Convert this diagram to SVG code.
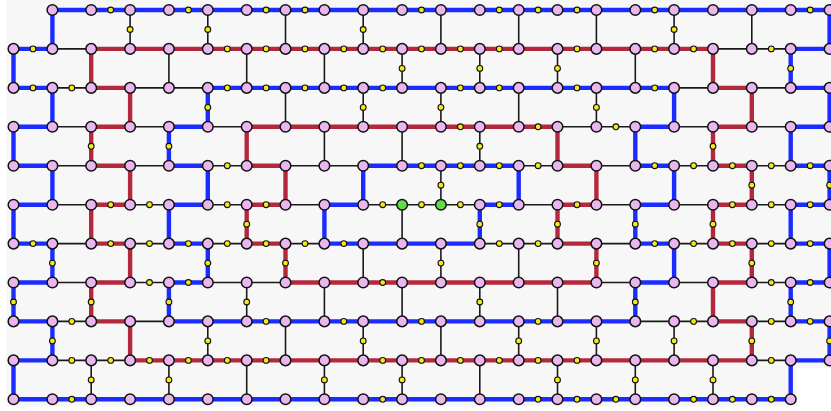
<svg xmlns="http://www.w3.org/2000/svg" width="831" height="411" viewBox="0 0 831 411">
<style>
.b{stroke:#1a2cff;stroke-width:4.4;fill:none}
.r{stroke:#b3283d;stroke-width:4.4;fill:none}
.k{stroke:#1a1a1a;stroke-width:1.6;fill:none}
.p{fill:#e9b6ef;stroke:#111;stroke-width:1.5}
.g{fill:#62dc45;stroke:#111;stroke-width:1.5}
.y{fill:#f3ea1d;stroke:#111;stroke-width:1.1}
</style>
<rect width="831" height="411" fill="#ffffff"/>
<polygon points="6,0 831,0 831,368 797,368 797,406.5 6,406.5" fill="#f7f7f7"/>
<g id="connectors">
<path class="b" d="M52.4 10H91.2"/><path class="b" d="M91.2 10H130.1"/><path class="b" d="M130.1 10H168.9"/><path class="b" d="M168.9 10H207.8"/><path class="b" d="M207.8 10H246.7"/><path class="b" d="M246.7 10H285.5"/><path class="b" d="M285.5 10H324.4"/><path class="b" d="M324.4 10H363.2"/><path class="b" d="M363.2 10H402.1"/><path class="b" d="M402.1 10H440.9"/><path class="b" d="M440.9 10H479.8"/><path class="b" d="M479.8 10H518.7"/><path class="b" d="M518.7 10H557.5"/><path class="b" d="M557.5 10H596.4"/><path class="b" d="M596.4 10H635.3"/><path class="b" d="M635.3 10H674.1"/><path class="b" d="M674.1 10H713"/><path class="b" d="M713 10H751.8"/><path class="b" d="M751.8 10H790.7"/><path class="b" d="M790.7 10H829.6"/>
<path class="b" d="M13.5 48.9H52.4"/><path class="k" d="M52.4 48.9H91.2"/><path class="r" d="M91.2 48.9H130.1"/><path class="r" d="M130.1 48.9H168.9"/><path class="r" d="M168.9 48.9H207.8"/><path class="r" d="M207.8 48.9H246.7"/><path class="r" d="M246.7 48.9H285.5"/><path class="r" d="M285.5 48.9H324.4"/><path class="r" d="M324.4 48.9H363.2"/><path class="r" d="M363.2 48.9H402.1"/><path class="r" d="M402.1 48.9H440.9"/><path class="r" d="M440.9 48.9H479.8"/><path class="r" d="M479.8 48.9H518.7"/><path class="r" d="M518.7 48.9H557.5"/><path class="r" d="M557.5 48.9H596.4"/><path class="r" d="M596.4 48.9H635.3"/><path class="r" d="M635.3 48.9H674.1"/><path class="r" d="M674.1 48.9H713"/><path class="k" d="M713 48.9H751.8"/><path class="k" d="M751.8 48.9H790.7"/><path class="b" d="M790.7 48.9H829.6"/>
<path class="b" d="M13.5 87.9H52.4"/><path class="k" d="M52.4 87.9H91.2"/><path class="r" d="M91.2 87.9H130.1"/><path class="k" d="M130.1 87.9H168.9"/><path class="k" d="M168.9 87.9H207.8"/><path class="b" d="M207.8 87.9H246.7"/><path class="b" d="M246.7 87.9H285.5"/><path class="b" d="M285.5 87.9H324.4"/><path class="b" d="M324.4 87.9H363.2"/><path class="b" d="M363.2 87.9H402.1"/><path class="b" d="M402.1 87.9H440.9"/><path class="b" d="M440.9 87.9H479.8"/><path class="b" d="M479.8 87.9H518.7"/><path class="b" d="M518.7 87.9H557.5"/><path class="b" d="M557.5 87.9H596.4"/><path class="b" d="M596.4 87.9H635.3"/><path class="b" d="M635.3 87.9H674.1"/><path class="k" d="M674.1 87.9H713"/><path class="r" d="M713 87.9H751.8"/><path class="k" d="M751.8 87.9H790.7"/><path class="b" d="M790.7 87.9H829.6"/>
<path class="b" d="M13.5 126.8H52.4"/><path class="k" d="M52.4 126.8H91.2"/><path class="r" d="M91.2 126.8H130.1"/><path class="k" d="M130.1 126.8H168.9"/><path class="b" d="M168.9 126.8H207.8"/><path class="k" d="M207.8 126.8H246.7"/><path class="r" d="M246.7 126.8H285.5"/><path class="r" d="M285.5 126.8H324.4"/><path class="r" d="M324.4 126.8H363.2"/><path class="r" d="M363.2 126.8H402.1"/><path class="r" d="M402.1 126.8H440.9"/><path class="r" d="M440.9 126.8H479.8"/><path class="r" d="M479.8 126.8H518.7"/><path class="r" d="M518.7 126.8H557.5"/><path class="k" d="M557.5 126.8H596.4"/><path class="k" d="M596.4 126.8H635.3"/><path class="b" d="M635.3 126.8H674.1"/><path class="k" d="M674.1 126.8H713"/><path class="r" d="M713 126.8H751.8"/><path class="k" d="M751.8 126.8H790.7"/><path class="b" d="M790.7 126.8H829.6"/>
<path class="b" d="M13.5 165.7H52.4"/><path class="k" d="M52.4 165.7H91.2"/><path class="r" d="M91.2 165.7H130.1"/><path class="k" d="M130.1 165.7H168.9"/><path class="b" d="M168.9 165.7H207.8"/><path class="k" d="M207.8 165.7H246.7"/><path class="r" d="M246.7 165.7H285.5"/><path class="k" d="M285.5 165.7H324.4"/><path class="k" d="M324.4 165.7H363.2"/><path class="b" d="M363.2 165.7H402.1"/><path class="b" d="M402.1 165.7H440.9"/><path class="b" d="M440.9 165.7H479.8"/><path class="b" d="M479.8 165.7H518.7"/><path class="k" d="M518.7 165.7H557.5"/><path class="r" d="M557.5 165.7H596.4"/><path class="k" d="M596.4 165.7H635.3"/><path class="b" d="M635.3 165.7H674.1"/><path class="k" d="M674.1 165.7H713"/><path class="r" d="M713 165.7H751.8"/><path class="k" d="M751.8 165.7H790.7"/><path class="b" d="M790.7 165.7H829.6"/>
<path class="b" d="M13.5 204.7H52.4"/><path class="k" d="M52.4 204.7H91.2"/><path class="r" d="M91.2 204.7H130.1"/><path class="k" d="M130.1 204.7H168.9"/><path class="b" d="M168.9 204.7H207.8"/><path class="k" d="M207.8 204.7H246.7"/><path class="r" d="M246.7 204.7H285.5"/><path class="k" d="M285.5 204.7H324.4"/><path class="b" d="M324.4 204.7H363.2"/><path class="k" d="M363.2 204.7H402.1"/><path class="k" d="M402.1 204.7H440.9"/><path class="k" d="M440.9 204.7H479.8"/><path class="b" d="M479.8 204.7H518.7"/><path class="k" d="M518.7 204.7H557.5"/><path class="r" d="M557.5 204.7H596.4"/><path class="k" d="M596.4 204.7H635.3"/><path class="b" d="M635.3 204.7H674.1"/><path class="k" d="M674.1 204.7H713"/><path class="r" d="M713 204.7H751.8"/><path class="k" d="M751.8 204.7H790.7"/><path class="b" d="M790.7 204.7H829.6"/>
<path class="b" d="M13.5 243.6H52.4"/><path class="k" d="M52.4 243.6H91.2"/><path class="r" d="M91.2 243.6H130.1"/><path class="k" d="M130.1 243.6H168.9"/><path class="b" d="M168.9 243.6H207.8"/><path class="k" d="M207.8 243.6H246.7"/><path class="r" d="M246.7 243.6H285.5"/><path class="k" d="M285.5 243.6H324.4"/><path class="b" d="M324.4 243.6H363.2"/><path class="b" d="M363.2 243.6H402.1"/><path class="b" d="M402.1 243.6H440.9"/><path class="b" d="M440.9 243.6H479.8"/><path class="k" d="M479.8 243.6H518.7"/><path class="k" d="M518.7 243.6H557.5"/><path class="r" d="M557.5 243.6H596.4"/><path class="k" d="M596.4 243.6H635.3"/><path class="b" d="M635.3 243.6H674.1"/><path class="k" d="M674.1 243.6H713"/><path class="r" d="M713 243.6H751.8"/><path class="k" d="M751.8 243.6H790.7"/><path class="b" d="M790.7 243.6H829.6"/>
<path class="b" d="M13.5 282.5H52.4"/><path class="k" d="M52.4 282.5H91.2"/><path class="r" d="M91.2 282.5H130.1"/><path class="k" d="M130.1 282.5H168.9"/><path class="b" d="M168.9 282.5H207.8"/><path class="k" d="M207.8 282.5H246.7"/><path class="k" d="M246.7 282.5H285.5"/><path class="r" d="M285.5 282.5H324.4"/><path class="r" d="M324.4 282.5H363.2"/><path class="r" d="M363.2 282.5H402.1"/><path class="r" d="M402.1 282.5H440.9"/><path class="r" d="M440.9 282.5H479.8"/><path class="r" d="M479.8 282.5H518.7"/><path class="r" d="M518.7 282.5H557.5"/><path class="r" d="M557.5 282.5H596.4"/><path class="k" d="M596.4 282.5H635.3"/><path class="b" d="M635.3 282.5H674.1"/><path class="k" d="M674.1 282.5H713"/><path class="r" d="M713 282.5H751.8"/><path class="k" d="M751.8 282.5H790.7"/><path class="b" d="M790.7 282.5H829.6"/>
<path class="b" d="M13.5 321.4H52.4"/><path class="k" d="M52.4 321.4H91.2"/><path class="r" d="M91.2 321.4H130.1"/><path class="k" d="M130.1 321.4H168.9"/><path class="b" d="M168.9 321.4H207.8"/><path class="b" d="M207.8 321.4H246.7"/><path class="b" d="M246.7 321.4H285.5"/><path class="b" d="M285.5 321.4H324.4"/><path class="b" d="M324.4 321.4H363.2"/><path class="b" d="M363.2 321.4H402.1"/><path class="b" d="M402.1 321.4H440.9"/><path class="b" d="M440.9 321.4H479.8"/><path class="b" d="M479.8 321.4H518.7"/><path class="b" d="M518.7 321.4H557.5"/><path class="b" d="M557.5 321.4H596.4"/><path class="b" d="M596.4 321.4H635.3"/><path class="k" d="M635.3 321.4H674.1"/><path class="k" d="M674.1 321.4H713"/><path class="r" d="M713 321.4H751.8"/><path class="k" d="M751.8 321.4H790.7"/><path class="b" d="M790.7 321.4H829.6"/>
<path class="b" d="M13.5 360.4H52.4"/><path class="k" d="M52.4 360.4H91.2"/><path class="k" d="M91.2 360.4H130.1"/><path class="r" d="M130.1 360.4H168.9"/><path class="r" d="M168.9 360.4H207.8"/><path class="r" d="M207.8 360.4H246.7"/><path class="r" d="M246.7 360.4H285.5"/><path class="r" d="M285.5 360.4H324.4"/><path class="r" d="M324.4 360.4H363.2"/><path class="r" d="M363.2 360.4H402.1"/><path class="r" d="M402.1 360.4H440.9"/><path class="r" d="M440.9 360.4H479.8"/><path class="r" d="M479.8 360.4H518.7"/><path class="r" d="M518.7 360.4H557.5"/><path class="r" d="M557.5 360.4H596.4"/><path class="r" d="M596.4 360.4H635.3"/><path class="r" d="M635.3 360.4H674.1"/><path class="r" d="M674.1 360.4H713"/><path class="r" d="M713 360.4H751.8"/><path class="k" d="M751.8 360.4H790.7"/><path class="b" d="M790.7 360.4H829.6"/>
<path class="b" d="M13.5 399.3H52.4"/><path class="b" d="M52.4 399.3H91.2"/><path class="b" d="M91.2 399.3H130.1"/><path class="b" d="M130.1 399.3H168.9"/><path class="b" d="M168.9 399.3H207.8"/><path class="b" d="M207.8 399.3H246.7"/><path class="b" d="M246.7 399.3H285.5"/><path class="b" d="M285.5 399.3H324.4"/><path class="b" d="M324.4 399.3H363.2"/><path class="b" d="M363.2 399.3H402.1"/><path class="b" d="M402.1 399.3H440.9"/><path class="b" d="M440.9 399.3H479.8"/><path class="b" d="M479.8 399.3H518.7"/><path class="b" d="M518.7 399.3H557.5"/><path class="b" d="M557.5 399.3H596.4"/><path class="b" d="M596.4 399.3H635.3"/><path class="b" d="M635.3 399.3H674.1"/><path class="b" d="M674.1 399.3H713"/><path class="b" d="M713 399.3H751.8"/><path class="b" d="M751.8 399.3H790.7"/>
<path class="b" d="M52.4 10V48.9"/><path class="k" d="M130.1 10V48.9"/><path class="k" d="M207.8 10V48.9"/><path class="k" d="M285.5 10V48.9"/><path class="k" d="M363.2 10V48.9"/><path class="k" d="M440.9 10V48.9"/><path class="k" d="M518.7 10V48.9"/><path class="k" d="M596.4 10V48.9"/><path class="k" d="M674.1 10V48.9"/><path class="k" d="M751.8 10V48.9"/><path class="b" d="M829.6 10V48.9"/>
<path class="b" d="M13.5 48.9V87.9"/><path class="r" d="M91.2 48.9V87.9"/><path class="k" d="M168.9 48.9V87.9"/><path class="k" d="M246.7 48.9V87.9"/><path class="k" d="M324.4 48.9V87.9"/><path class="k" d="M402.1 48.9V87.9"/><path class="k" d="M479.8 48.9V87.9"/><path class="k" d="M557.5 48.9V87.9"/><path class="k" d="M635.3 48.9V87.9"/><path class="r" d="M713 48.9V87.9"/><path class="b" d="M790.7 48.9V87.9"/>
<path class="b" d="M52.4 87.9V126.8"/><path class="r" d="M130.1 87.9V126.8"/><path class="b" d="M207.8 87.9V126.8"/><path class="k" d="M285.5 87.9V126.8"/><path class="k" d="M363.2 87.9V126.8"/><path class="k" d="M440.9 87.9V126.8"/><path class="k" d="M518.7 87.9V126.8"/><path class="k" d="M596.4 87.9V126.8"/><path class="b" d="M674.1 87.9V126.8"/><path class="r" d="M751.8 87.9V126.8"/><path class="b" d="M829.6 87.9V126.8"/>
<path class="b" d="M13.5 126.8V165.7"/><path class="r" d="M91.2 126.8V165.7"/><path class="b" d="M168.9 126.8V165.7"/><path class="r" d="M246.7 126.8V165.7"/><path class="k" d="M324.4 126.8V165.7"/><path class="k" d="M402.1 126.8V165.7"/><path class="k" d="M479.8 126.8V165.7"/><path class="r" d="M557.5 126.8V165.7"/><path class="b" d="M635.3 126.8V165.7"/><path class="r" d="M713 126.8V165.7"/><path class="b" d="M790.7 126.8V165.7"/>
<path class="b" d="M52.4 165.7V204.7"/><path class="r" d="M130.1 165.7V204.7"/><path class="b" d="M207.8 165.7V204.7"/><path class="r" d="M285.5 165.7V204.7"/><path class="b" d="M363.2 165.7V204.7"/><path class="k" d="M440.9 165.7V204.7"/><path class="b" d="M518.7 165.7V204.7"/><path class="r" d="M596.4 165.7V204.7"/><path class="b" d="M674.1 165.7V204.7"/><path class="r" d="M751.8 165.7V204.7"/><path class="b" d="M829.6 165.7V204.7"/>
<path class="b" d="M13.5 204.7V243.6"/><path class="r" d="M91.2 204.7V243.6"/><path class="b" d="M168.9 204.7V243.6"/><path class="r" d="M246.7 204.7V243.6"/><path class="b" d="M324.4 204.7V243.6"/><path class="k" d="M402.1 204.7V243.6"/><path class="b" d="M479.8 204.7V243.6"/><path class="r" d="M557.5 204.7V243.6"/><path class="b" d="M635.3 204.7V243.6"/><path class="r" d="M713 204.7V243.6"/><path class="b" d="M790.7 204.7V243.6"/>
<path class="b" d="M52.4 243.6V282.5"/><path class="r" d="M130.1 243.6V282.5"/><path class="b" d="M207.8 243.6V282.5"/><path class="r" d="M285.5 243.6V282.5"/><path class="k" d="M363.2 243.6V282.5"/><path class="k" d="M440.9 243.6V282.5"/><path class="k" d="M518.7 243.6V282.5"/><path class="r" d="M596.4 243.6V282.5"/><path class="b" d="M674.1 243.6V282.5"/><path class="r" d="M751.8 243.6V282.5"/><path class="b" d="M829.6 243.6V282.5"/>
<path class="b" d="M13.5 282.5V321.4"/><path class="r" d="M91.2 282.5V321.4"/><path class="b" d="M168.9 282.5V321.4"/><path class="k" d="M246.7 282.5V321.4"/><path class="k" d="M324.4 282.5V321.4"/><path class="k" d="M402.1 282.5V321.4"/><path class="k" d="M479.8 282.5V321.4"/><path class="k" d="M557.5 282.5V321.4"/><path class="b" d="M635.3 282.5V321.4"/><path class="r" d="M713 282.5V321.4"/><path class="b" d="M790.7 282.5V321.4"/>
<path class="b" d="M52.4 321.4V360.4"/><path class="r" d="M130.1 321.4V360.4"/><path class="k" d="M207.8 321.4V360.4"/><path class="k" d="M285.5 321.4V360.4"/><path class="k" d="M363.2 321.4V360.4"/><path class="k" d="M440.9 321.4V360.4"/><path class="k" d="M518.7 321.4V360.4"/><path class="k" d="M596.4 321.4V360.4"/><path class="k" d="M674.1 321.4V360.4"/><path class="r" d="M751.8 321.4V360.4"/><path class="b" d="M829.6 321.4V360.4"/>
<path class="b" d="M13.5 360.4V399.3"/><path class="k" d="M91.2 360.4V399.3"/><path class="k" d="M168.9 360.4V399.3"/><path class="k" d="M246.7 360.4V399.3"/><path class="k" d="M324.4 360.4V399.3"/><path class="k" d="M402.1 360.4V399.3"/><path class="k" d="M479.8 360.4V399.3"/><path class="k" d="M557.5 360.4V399.3"/><path class="k" d="M635.3 360.4V399.3"/><path class="k" d="M713 360.4V399.3"/><path class="b" d="M790.7 360.4V399.3"/>
</g>
<g id="nodes">
<g id="p1_0"><circle class="p" cx="52.4" cy="10" r="5.3"/></g><g id="p2_0"><circle class="p" cx="91.2" cy="10" r="5.3"/></g><g id="p3_0"><circle class="p" cx="130.1" cy="10" r="5.3"/></g><g id="p4_0"><circle class="p" cx="168.9" cy="10" r="5.3"/></g><g id="p5_0"><circle class="p" cx="207.8" cy="10" r="5.3"/></g><g id="p6_0"><circle class="p" cx="246.7" cy="10" r="5.3"/></g><g id="p7_0"><circle class="p" cx="285.5" cy="10" r="5.3"/></g><g id="p8_0"><circle class="p" cx="324.4" cy="10" r="5.3"/></g><g id="p9_0"><circle class="p" cx="363.2" cy="10" r="5.3"/></g><g id="p10_0"><circle class="p" cx="402.1" cy="10" r="5.3"/></g><g id="p11_0"><circle class="p" cx="440.9" cy="10" r="5.3"/></g><g id="p12_0"><circle class="p" cx="479.8" cy="10" r="5.3"/></g><g id="p13_0"><circle class="p" cx="518.7" cy="10" r="5.3"/></g><g id="p14_0"><circle class="p" cx="557.5" cy="10" r="5.3"/></g><g id="p15_0"><circle class="p" cx="596.4" cy="10" r="5.3"/></g><g id="p16_0"><circle class="p" cx="635.3" cy="10" r="5.3"/></g><g id="p17_0"><circle class="p" cx="674.1" cy="10" r="5.3"/></g><g id="p18_0"><circle class="p" cx="713" cy="10" r="5.3"/></g><g id="p19_0"><circle class="p" cx="751.8" cy="10" r="5.3"/></g><g id="p20_0"><circle class="p" cx="790.7" cy="10" r="5.3"/></g><g id="p21_0"><circle class="p" cx="829.6" cy="10" r="5.3"/></g>
<g id="p0_1"><circle class="p" cx="13.5" cy="48.9" r="5.3"/></g><g id="p1_1"><circle class="p" cx="52.4" cy="48.9" r="5.3"/></g><g id="p2_1"><circle class="p" cx="91.2" cy="48.9" r="5.3"/></g><g id="p3_1"><circle class="p" cx="130.1" cy="48.9" r="5.3"/></g><g id="p4_1"><circle class="p" cx="168.9" cy="48.9" r="5.3"/></g><g id="p5_1"><circle class="p" cx="207.8" cy="48.9" r="5.3"/></g><g id="p6_1"><circle class="p" cx="246.7" cy="48.9" r="5.3"/></g><g id="p7_1"><circle class="p" cx="285.5" cy="48.9" r="5.3"/></g><g id="p8_1"><circle class="p" cx="324.4" cy="48.9" r="5.3"/></g><g id="p9_1"><circle class="p" cx="363.2" cy="48.9" r="5.3"/></g><g id="p10_1"><circle class="p" cx="402.1" cy="48.9" r="5.3"/></g><g id="p11_1"><circle class="p" cx="440.9" cy="48.9" r="5.3"/></g><g id="p12_1"><circle class="p" cx="479.8" cy="48.9" r="5.3"/></g><g id="p13_1"><circle class="p" cx="518.7" cy="48.9" r="5.3"/></g><g id="p14_1"><circle class="p" cx="557.5" cy="48.9" r="5.3"/></g><g id="p15_1"><circle class="p" cx="596.4" cy="48.9" r="5.3"/></g><g id="p16_1"><circle class="p" cx="635.3" cy="48.9" r="5.3"/></g><g id="p17_1"><circle class="p" cx="674.1" cy="48.9" r="5.3"/></g><g id="p18_1"><circle class="p" cx="713" cy="48.9" r="5.3"/></g><g id="p19_1"><circle class="p" cx="751.8" cy="48.9" r="5.3"/></g><g id="p20_1"><circle class="p" cx="790.7" cy="48.9" r="5.3"/></g><g id="p21_1"><circle class="p" cx="829.6" cy="48.9" r="5.3"/></g>
<g id="p0_2"><circle class="p" cx="13.5" cy="87.9" r="5.3"/></g><g id="p1_2"><circle class="p" cx="52.4" cy="87.9" r="5.3"/></g><g id="p2_2"><circle class="p" cx="91.2" cy="87.9" r="5.3"/></g><g id="p3_2"><circle class="p" cx="130.1" cy="87.9" r="5.3"/></g><g id="p4_2"><circle class="p" cx="168.9" cy="87.9" r="5.3"/></g><g id="p5_2"><circle class="p" cx="207.8" cy="87.9" r="5.3"/></g><g id="p6_2"><circle class="p" cx="246.7" cy="87.9" r="5.3"/></g><g id="p7_2"><circle class="p" cx="285.5" cy="87.9" r="5.3"/></g><g id="p8_2"><circle class="p" cx="324.4" cy="87.9" r="5.3"/></g><g id="p9_2"><circle class="p" cx="363.2" cy="87.9" r="5.3"/></g><g id="p10_2"><circle class="p" cx="402.1" cy="87.9" r="5.3"/></g><g id="p11_2"><circle class="p" cx="440.9" cy="87.9" r="5.3"/></g><g id="p12_2"><circle class="p" cx="479.8" cy="87.9" r="5.3"/></g><g id="p13_2"><circle class="p" cx="518.7" cy="87.9" r="5.3"/></g><g id="p14_2"><circle class="p" cx="557.5" cy="87.9" r="5.3"/></g><g id="p15_2"><circle class="p" cx="596.4" cy="87.9" r="5.3"/></g><g id="p16_2"><circle class="p" cx="635.3" cy="87.9" r="5.3"/></g><g id="p17_2"><circle class="p" cx="674.1" cy="87.9" r="5.3"/></g><g id="p18_2"><circle class="p" cx="713" cy="87.9" r="5.3"/></g><g id="p19_2"><circle class="p" cx="751.8" cy="87.9" r="5.3"/></g><g id="p20_2"><circle class="p" cx="790.7" cy="87.9" r="5.3"/></g><g id="p21_2"><circle class="p" cx="829.6" cy="87.9" r="5.3"/></g>
<g id="p0_3"><circle class="p" cx="13.5" cy="126.8" r="5.3"/></g><g id="p1_3"><circle class="p" cx="52.4" cy="126.8" r="5.3"/></g><g id="p2_3"><circle class="p" cx="91.2" cy="126.8" r="5.3"/></g><g id="p3_3"><circle class="p" cx="130.1" cy="126.8" r="5.3"/></g><g id="p4_3"><circle class="p" cx="168.9" cy="126.8" r="5.3"/></g><g id="p5_3"><circle class="p" cx="207.8" cy="126.8" r="5.3"/></g><g id="p6_3"><circle class="p" cx="246.7" cy="126.8" r="5.3"/></g><g id="p7_3"><circle class="p" cx="285.5" cy="126.8" r="5.3"/></g><g id="p8_3"><circle class="p" cx="324.4" cy="126.8" r="5.3"/></g><g id="p9_3"><circle class="p" cx="363.2" cy="126.8" r="5.3"/></g><g id="p10_3"><circle class="p" cx="402.1" cy="126.8" r="5.3"/></g><g id="p11_3"><circle class="p" cx="440.9" cy="126.8" r="5.3"/></g><g id="p12_3"><circle class="p" cx="479.8" cy="126.8" r="5.3"/></g><g id="p13_3"><circle class="p" cx="518.7" cy="126.8" r="5.3"/></g><g id="p14_3"><circle class="p" cx="557.5" cy="126.8" r="5.3"/></g><g id="p15_3"><circle class="p" cx="596.4" cy="126.8" r="5.3"/></g><g id="p16_3"><circle class="p" cx="635.3" cy="126.8" r="5.3"/></g><g id="p17_3"><circle class="p" cx="674.1" cy="126.8" r="5.3"/></g><g id="p18_3"><circle class="p" cx="713" cy="126.8" r="5.3"/></g><g id="p19_3"><circle class="p" cx="751.8" cy="126.8" r="5.3"/></g><g id="p20_3"><circle class="p" cx="790.7" cy="126.8" r="5.3"/></g><g id="p21_3"><circle class="p" cx="829.6" cy="126.8" r="5.3"/></g>
<g id="p0_4"><circle class="p" cx="13.5" cy="165.7" r="5.3"/></g><g id="p1_4"><circle class="p" cx="52.4" cy="165.7" r="5.3"/></g><g id="p2_4"><circle class="p" cx="91.2" cy="165.7" r="5.3"/></g><g id="p3_4"><circle class="p" cx="130.1" cy="165.7" r="5.3"/></g><g id="p4_4"><circle class="p" cx="168.9" cy="165.7" r="5.3"/></g><g id="p5_4"><circle class="p" cx="207.8" cy="165.7" r="5.3"/></g><g id="p6_4"><circle class="p" cx="246.7" cy="165.7" r="5.3"/></g><g id="p7_4"><circle class="p" cx="285.5" cy="165.7" r="5.3"/></g><g id="p8_4"><circle class="p" cx="324.4" cy="165.7" r="5.3"/></g><g id="p9_4"><circle class="p" cx="363.2" cy="165.7" r="5.3"/></g><g id="p10_4"><circle class="p" cx="402.1" cy="165.7" r="5.3"/></g><g id="p11_4"><circle class="p" cx="440.9" cy="165.7" r="5.3"/></g><g id="p12_4"><circle class="p" cx="479.8" cy="165.7" r="5.3"/></g><g id="p13_4"><circle class="p" cx="518.7" cy="165.7" r="5.3"/></g><g id="p14_4"><circle class="p" cx="557.5" cy="165.7" r="5.3"/></g><g id="p15_4"><circle class="p" cx="596.4" cy="165.7" r="5.3"/></g><g id="p16_4"><circle class="p" cx="635.3" cy="165.7" r="5.3"/></g><g id="p17_4"><circle class="p" cx="674.1" cy="165.7" r="5.3"/></g><g id="p18_4"><circle class="p" cx="713" cy="165.7" r="5.3"/></g><g id="p19_4"><circle class="p" cx="751.8" cy="165.7" r="5.3"/></g><g id="p20_4"><circle class="p" cx="790.7" cy="165.7" r="5.3"/></g><g id="p21_4"><circle class="p" cx="829.6" cy="165.7" r="5.3"/></g>
<g id="p0_5"><circle class="p" cx="13.5" cy="204.7" r="5.3"/></g><g id="p1_5"><circle class="p" cx="52.4" cy="204.7" r="5.3"/></g><g id="p2_5"><circle class="p" cx="91.2" cy="204.7" r="5.3"/></g><g id="p3_5"><circle class="p" cx="130.1" cy="204.7" r="5.3"/></g><g id="p4_5"><circle class="p" cx="168.9" cy="204.7" r="5.3"/></g><g id="p5_5"><circle class="p" cx="207.8" cy="204.7" r="5.3"/></g><g id="p6_5"><circle class="p" cx="246.7" cy="204.7" r="5.3"/></g><g id="p7_5"><circle class="p" cx="285.5" cy="204.7" r="5.3"/></g><g id="p8_5"><circle class="p" cx="324.4" cy="204.7" r="5.3"/></g><g id="p9_5"><circle class="p" cx="363.2" cy="204.7" r="5.3"/></g><g id="p10_5"><circle class="g" cx="402.1" cy="204.7" r="5.3"/></g><g id="p11_5"><circle class="g" cx="440.9" cy="204.7" r="5.3"/></g><g id="p12_5"><circle class="p" cx="479.8" cy="204.7" r="5.3"/></g><g id="p13_5"><circle class="p" cx="518.7" cy="204.7" r="5.3"/></g><g id="p14_5"><circle class="p" cx="557.5" cy="204.7" r="5.3"/></g><g id="p15_5"><circle class="p" cx="596.4" cy="204.7" r="5.3"/></g><g id="p16_5"><circle class="p" cx="635.3" cy="204.7" r="5.3"/></g><g id="p17_5"><circle class="p" cx="674.1" cy="204.7" r="5.3"/></g><g id="p18_5"><circle class="p" cx="713" cy="204.7" r="5.3"/></g><g id="p19_5"><circle class="p" cx="751.8" cy="204.7" r="5.3"/></g><g id="p20_5"><circle class="p" cx="790.7" cy="204.7" r="5.3"/></g><g id="p21_5"><circle class="p" cx="829.6" cy="204.7" r="5.3"/></g>
<g id="p0_6"><circle class="p" cx="13.5" cy="243.6" r="5.3"/></g><g id="p1_6"><circle class="p" cx="52.4" cy="243.6" r="5.3"/></g><g id="p2_6"><circle class="p" cx="91.2" cy="243.6" r="5.3"/></g><g id="p3_6"><circle class="p" cx="130.1" cy="243.6" r="5.3"/></g><g id="p4_6"><circle class="p" cx="168.9" cy="243.6" r="5.3"/></g><g id="p5_6"><circle class="p" cx="207.8" cy="243.6" r="5.3"/></g><g id="p6_6"><circle class="p" cx="246.7" cy="243.6" r="5.3"/></g><g id="p7_6"><circle class="p" cx="285.5" cy="243.6" r="5.3"/></g><g id="p8_6"><circle class="p" cx="324.4" cy="243.6" r="5.3"/></g><g id="p9_6"><circle class="p" cx="363.2" cy="243.6" r="5.3"/></g><g id="p10_6"><circle class="p" cx="402.1" cy="243.6" r="5.3"/></g><g id="p11_6"><circle class="p" cx="440.9" cy="243.6" r="5.3"/></g><g id="p12_6"><circle class="p" cx="479.8" cy="243.6" r="5.3"/></g><g id="p13_6"><circle class="p" cx="518.7" cy="243.6" r="5.3"/></g><g id="p14_6"><circle class="p" cx="557.5" cy="243.6" r="5.3"/></g><g id="p15_6"><circle class="p" cx="596.4" cy="243.6" r="5.3"/></g><g id="p16_6"><circle class="p" cx="635.3" cy="243.6" r="5.3"/></g><g id="p17_6"><circle class="p" cx="674.1" cy="243.6" r="5.3"/></g><g id="p18_6"><circle class="p" cx="713" cy="243.6" r="5.3"/></g><g id="p19_6"><circle class="p" cx="751.8" cy="243.6" r="5.3"/></g><g id="p20_6"><circle class="p" cx="790.7" cy="243.6" r="5.3"/></g><g id="p21_6"><circle class="p" cx="829.6" cy="243.6" r="5.3"/></g>
<g id="p0_7"><circle class="p" cx="13.5" cy="282.5" r="5.3"/></g><g id="p1_7"><circle class="p" cx="52.4" cy="282.5" r="5.3"/></g><g id="p2_7"><circle class="p" cx="91.2" cy="282.5" r="5.3"/></g><g id="p3_7"><circle class="p" cx="130.1" cy="282.5" r="5.3"/></g><g id="p4_7"><circle class="p" cx="168.9" cy="282.5" r="5.3"/></g><g id="p5_7"><circle class="p" cx="207.8" cy="282.5" r="5.3"/></g><g id="p6_7"><circle class="p" cx="246.7" cy="282.5" r="5.3"/></g><g id="p7_7"><circle class="p" cx="285.5" cy="282.5" r="5.3"/></g><g id="p8_7"><circle class="p" cx="324.4" cy="282.5" r="5.3"/></g><g id="p9_7"><circle class="p" cx="363.2" cy="282.5" r="5.3"/></g><g id="p10_7"><circle class="p" cx="402.1" cy="282.5" r="5.3"/></g><g id="p11_7"><circle class="p" cx="440.9" cy="282.5" r="5.3"/></g><g id="p12_7"><circle class="p" cx="479.8" cy="282.5" r="5.3"/></g><g id="p13_7"><circle class="p" cx="518.7" cy="282.5" r="5.3"/></g><g id="p14_7"><circle class="p" cx="557.5" cy="282.5" r="5.3"/></g><g id="p15_7"><circle class="p" cx="596.4" cy="282.5" r="5.3"/></g><g id="p16_7"><circle class="p" cx="635.3" cy="282.5" r="5.3"/></g><g id="p17_7"><circle class="p" cx="674.1" cy="282.5" r="5.3"/></g><g id="p18_7"><circle class="p" cx="713" cy="282.5" r="5.3"/></g><g id="p19_7"><circle class="p" cx="751.8" cy="282.5" r="5.3"/></g><g id="p20_7"><circle class="p" cx="790.7" cy="282.5" r="5.3"/></g><g id="p21_7"><circle class="p" cx="829.6" cy="282.5" r="5.3"/></g>
<g id="p0_8"><circle class="p" cx="13.5" cy="321.4" r="5.3"/></g><g id="p1_8"><circle class="p" cx="52.4" cy="321.4" r="5.3"/></g><g id="p2_8"><circle class="p" cx="91.2" cy="321.4" r="5.3"/></g><g id="p3_8"><circle class="p" cx="130.1" cy="321.4" r="5.3"/></g><g id="p4_8"><circle class="p" cx="168.9" cy="321.4" r="5.3"/></g><g id="p5_8"><circle class="p" cx="207.8" cy="321.4" r="5.3"/></g><g id="p6_8"><circle class="p" cx="246.7" cy="321.4" r="5.3"/></g><g id="p7_8"><circle class="p" cx="285.5" cy="321.4" r="5.3"/></g><g id="p8_8"><circle class="p" cx="324.4" cy="321.4" r="5.3"/></g><g id="p9_8"><circle class="p" cx="363.2" cy="321.4" r="5.3"/></g><g id="p10_8"><circle class="p" cx="402.1" cy="321.4" r="5.3"/></g><g id="p11_8"><circle class="p" cx="440.9" cy="321.4" r="5.3"/></g><g id="p12_8"><circle class="p" cx="479.8" cy="321.4" r="5.3"/></g><g id="p13_8"><circle class="p" cx="518.7" cy="321.4" r="5.3"/></g><g id="p14_8"><circle class="p" cx="557.5" cy="321.4" r="5.3"/></g><g id="p15_8"><circle class="p" cx="596.4" cy="321.4" r="5.3"/></g><g id="p16_8"><circle class="p" cx="635.3" cy="321.4" r="5.3"/></g><g id="p17_8"><circle class="p" cx="674.1" cy="321.4" r="5.3"/></g><g id="p18_8"><circle class="p" cx="713" cy="321.4" r="5.3"/></g><g id="p19_8"><circle class="p" cx="751.8" cy="321.4" r="5.3"/></g><g id="p20_8"><circle class="p" cx="790.7" cy="321.4" r="5.3"/></g><g id="p21_8"><circle class="p" cx="829.6" cy="321.4" r="5.3"/></g>
<g id="p0_9"><circle class="p" cx="13.5" cy="360.4" r="5.3"/></g><g id="p1_9"><circle class="p" cx="52.4" cy="360.4" r="5.3"/></g><g id="p2_9"><circle class="p" cx="91.2" cy="360.4" r="5.3"/></g><g id="p3_9"><circle class="p" cx="130.1" cy="360.4" r="5.3"/></g><g id="p4_9"><circle class="p" cx="168.9" cy="360.4" r="5.3"/></g><g id="p5_9"><circle class="p" cx="207.8" cy="360.4" r="5.3"/></g><g id="p6_9"><circle class="p" cx="246.7" cy="360.4" r="5.3"/></g><g id="p7_9"><circle class="p" cx="285.5" cy="360.4" r="5.3"/></g><g id="p8_9"><circle class="p" cx="324.4" cy="360.4" r="5.3"/></g><g id="p9_9"><circle class="p" cx="363.2" cy="360.4" r="5.3"/></g><g id="p10_9"><circle class="p" cx="402.1" cy="360.4" r="5.3"/></g><g id="p11_9"><circle class="p" cx="440.9" cy="360.4" r="5.3"/></g><g id="p12_9"><circle class="p" cx="479.8" cy="360.4" r="5.3"/></g><g id="p13_9"><circle class="p" cx="518.7" cy="360.4" r="5.3"/></g><g id="p14_9"><circle class="p" cx="557.5" cy="360.4" r="5.3"/></g><g id="p15_9"><circle class="p" cx="596.4" cy="360.4" r="5.3"/></g><g id="p16_9"><circle class="p" cx="635.3" cy="360.4" r="5.3"/></g><g id="p17_9"><circle class="p" cx="674.1" cy="360.4" r="5.3"/></g><g id="p18_9"><circle class="p" cx="713" cy="360.4" r="5.3"/></g><g id="p19_9"><circle class="p" cx="751.8" cy="360.4" r="5.3"/></g><g id="p20_9"><circle class="p" cx="790.7" cy="360.4" r="5.3"/></g><g id="p21_9"><circle class="p" cx="829.6" cy="360.4" r="5.3"/></g>
<g id="p0_10"><circle class="p" cx="13.5" cy="399.3" r="5.3"/></g><g id="p1_10"><circle class="p" cx="52.4" cy="399.3" r="5.3"/></g><g id="p2_10"><circle class="p" cx="91.2" cy="399.3" r="5.3"/></g><g id="p3_10"><circle class="p" cx="130.1" cy="399.3" r="5.3"/></g><g id="p4_10"><circle class="p" cx="168.9" cy="399.3" r="5.3"/></g><g id="p5_10"><circle class="p" cx="207.8" cy="399.3" r="5.3"/></g><g id="p6_10"><circle class="p" cx="246.7" cy="399.3" r="5.3"/></g><g id="p7_10"><circle class="p" cx="285.5" cy="399.3" r="5.3"/></g><g id="p8_10"><circle class="p" cx="324.4" cy="399.3" r="5.3"/></g><g id="p9_10"><circle class="p" cx="363.2" cy="399.3" r="5.3"/></g><g id="p10_10"><circle class="p" cx="402.1" cy="399.3" r="5.3"/></g><g id="p11_10"><circle class="p" cx="440.9" cy="399.3" r="5.3"/></g><g id="p12_10"><circle class="p" cx="479.8" cy="399.3" r="5.3"/></g><g id="p13_10"><circle class="p" cx="518.7" cy="399.3" r="5.3"/></g><g id="p14_10"><circle class="p" cx="557.5" cy="399.3" r="5.3"/></g><g id="p15_10"><circle class="p" cx="596.4" cy="399.3" r="5.3"/></g><g id="p16_10"><circle class="p" cx="635.3" cy="399.3" r="5.3"/></g><g id="p17_10"><circle class="p" cx="674.1" cy="399.3" r="5.3"/></g><g id="p18_10"><circle class="p" cx="713" cy="399.3" r="5.3"/></g><g id="p19_10"><circle class="p" cx="751.8" cy="399.3" r="5.3"/></g><g id="p20_10"><circle class="p" cx="790.7" cy="399.3" r="5.3"/></g>
</g>
<g id="aux">
<g id="yh0_2"><circle class="y" cx="110.7" cy="10" r="2.9"/></g><g id="yh0_4"><circle class="y" cx="188.4" cy="10" r="2.9"/></g><g id="yh0_6"><circle class="y" cx="266.1" cy="10" r="2.9"/></g><g id="yh0_7"><circle class="y" cx="305" cy="10" r="2.9"/></g><g id="yh0_10"><circle class="y" cx="421.5" cy="10" r="2.9"/></g><g id="yh0_12"><circle class="y" cx="499.3" cy="10" r="2.9"/></g><g id="yh0_13"><circle class="y" cx="538.1" cy="10" r="2.9"/></g><g id="yh0_14"><circle class="y" cx="577" cy="10" r="2.9"/></g><g id="yh0_16"><circle class="y" cx="654.7" cy="10" r="2.9"/></g><g id="yh0_20"><circle class="y" cx="810.2" cy="10" r="2.9"/></g>
<g id="yh1_0"><circle class="y" cx="33" cy="48.9" r="2.9"/></g><g id="yh1_5"><circle class="y" cx="227.3" cy="48.9" r="2.9"/></g><g id="yh1_6"><circle class="y" cx="266.1" cy="48.9" r="2.9"/></g><g id="yh1_7"><circle class="y" cx="305" cy="48.9" r="2.9"/></g><g id="yh1_8"><circle class="y" cx="343.8" cy="48.9" r="2.9"/></g><g id="yh1_9"><circle class="y" cx="382.7" cy="48.9" r="2.9"/></g><g id="yh1_10"><circle class="y" cx="421.5" cy="48.9" r="2.9"/></g><g id="yh1_11"><circle class="y" cx="460.4" cy="48.9" r="2.9"/></g><g id="yh1_12"><circle class="y" cx="499.3" cy="48.9" r="2.9"/></g><g id="yh1_14"><circle class="y" cx="577" cy="48.9" r="2.9"/></g><g id="yh1_16"><circle class="y" cx="654.7" cy="48.9" r="2.9"/></g><g id="yh1_17"><circle class="y" cx="693.6" cy="48.9" r="2.9"/></g><g id="yh1_19"><circle class="y" cx="771.3" cy="48.9" r="2.9"/></g>
<g id="yh2_0"><circle class="y" cx="33" cy="87.9" r="2.9"/></g><g id="yh2_1"><circle class="y" cx="71.8" cy="87.9" r="2.9"/></g><g id="yh2_5"><circle class="y" cx="227.3" cy="87.9" r="2.9"/></g><g id="yh2_6"><circle class="y" cx="266.1" cy="87.9" r="2.9"/></g><g id="yh2_7"><circle class="y" cx="305" cy="87.9" r="2.9"/></g><g id="yh2_8"><circle class="y" cx="343.8" cy="87.9" r="2.9"/></g><g id="yh2_9"><circle class="y" cx="382.7" cy="87.9" r="2.9"/></g><g id="yh2_11"><circle class="y" cx="460.4" cy="87.9" r="2.9"/></g><g id="yh2_12"><circle class="y" cx="499.3" cy="87.9" r="2.9"/></g><g id="yh2_14"><circle class="y" cx="577" cy="87.9" r="2.9"/></g><g id="yh2_16"><circle class="y" cx="654.7" cy="87.9" r="2.9"/></g>
<g id="yh3_11"><circle class="y" cx="460.4" cy="126.8" r="2.9"/></g><g id="yh3_13"><circle class="y" cx="538.1" cy="126.8" r="2.9"/></g><g id="yh3_15"><circle class="y" cx="615.9" cy="126.8" r="2.9"/></g>
<g id="yh4_5"><circle class="y" cx="227.3" cy="165.7" r="2.9"/></g><g id="yh4_10"><circle class="y" cx="421.5" cy="165.7" r="2.9"/></g><g id="yh4_11"><circle class="y" cx="460.4" cy="165.7" r="2.9"/></g><g id="yh4_12"><circle class="y" cx="499.3" cy="165.7" r="2.9"/></g><g id="yh4_13"><circle class="y" cx="538.1" cy="165.7" r="2.9"/></g><g id="yh4_16"><circle class="y" cx="654.7" cy="165.7" r="2.9"/></g><g id="yh4_17"><circle class="y" cx="693.6" cy="165.7" r="2.9"/></g><g id="yh4_18"><circle class="y" cx="732.4" cy="165.7" r="2.9"/></g><g id="yh4_19"><circle class="y" cx="771.3" cy="165.7" r="2.9"/></g><g id="yh4_20"><circle class="y" cx="810.2" cy="165.7" r="2.9"/></g>
<g id="yh5_2"><circle class="y" cx="110.7" cy="204.7" r="2.9"/></g><g id="yh5_3"><circle class="y" cx="149.5" cy="204.7" r="2.9"/></g><g id="yh5_5"><circle class="y" cx="227.3" cy="204.7" r="2.9"/></g><g id="yh5_6"><circle class="y" cx="266.1" cy="204.7" r="2.9"/></g><g id="yh5_9"><circle class="y" cx="382.7" cy="204.7" r="2.9"/></g><g id="yh5_10"><circle class="y" cx="421.5" cy="204.7" r="2.9"/></g><g id="yh5_11"><circle class="y" cx="460.4" cy="204.7" r="2.9"/></g><g id="yh5_12"><circle class="y" cx="499.3" cy="204.7" r="2.9"/></g><g id="yh5_14"><circle class="y" cx="577" cy="204.7" r="2.9"/></g><g id="yh5_18"><circle class="y" cx="732.4" cy="204.7" r="2.9"/></g><g id="yh5_19"><circle class="y" cx="771.3" cy="204.7" r="2.9"/></g><g id="yh5_20"><circle class="y" cx="810.2" cy="204.7" r="2.9"/></g>
<g id="yh6_0"><circle class="y" cx="33" cy="243.6" r="2.9"/></g><g id="yh6_2"><circle class="y" cx="110.7" cy="243.6" r="2.9"/></g><g id="yh6_3"><circle class="y" cx="149.5" cy="243.6" r="2.9"/></g><g id="yh6_4"><circle class="y" cx="188.4" cy="243.6" r="2.9"/></g><g id="yh6_5"><circle class="y" cx="227.3" cy="243.6" r="2.9"/></g><g id="yh6_6"><circle class="y" cx="266.1" cy="243.6" r="2.9"/></g><g id="yh6_7"><circle class="y" cx="305" cy="243.6" r="2.9"/></g><g id="yh6_8"><circle class="y" cx="343.8" cy="243.6" r="2.9"/></g><g id="yh6_12"><circle class="y" cx="499.3" cy="243.6" r="2.9"/></g><g id="yh6_13"><circle class="y" cx="538.1" cy="243.6" r="2.9"/></g><g id="yh6_16"><circle class="y" cx="654.7" cy="243.6" r="2.9"/></g><g id="yh6_17"><circle class="y" cx="693.6" cy="243.6" r="2.9"/></g><g id="yh6_18"><circle class="y" cx="732.4" cy="243.6" r="2.9"/></g><g id="yh6_19"><circle class="y" cx="771.3" cy="243.6" r="2.9"/></g><g id="yh6_20"><circle class="y" cx="810.2" cy="243.6" r="2.9"/></g>
<g id="yh7_3"><circle class="y" cx="149.5" cy="282.5" r="2.9"/></g><g id="yh7_4"><circle class="y" cx="188.4" cy="282.5" r="2.9"/></g><g id="yh7_9"><circle class="y" cx="382.7" cy="282.5" r="2.9"/></g><g id="yh7_19"><circle class="y" cx="771.3" cy="282.5" r="2.9"/></g><g id="yh7_20"><circle class="y" cx="810.2" cy="282.5" r="2.9"/></g>
<g id="yh8_1"><circle class="y" cx="71.8" cy="321.4" r="2.9"/></g><g id="yh8_6"><circle class="y" cx="266.1" cy="321.4" r="2.9"/></g><g id="yh8_8"><circle class="y" cx="343.8" cy="321.4" r="2.9"/></g><g id="yh8_10"><circle class="y" cx="421.5" cy="321.4" r="2.9"/></g><g id="yh8_13"><circle class="y" cx="538.1" cy="321.4" r="2.9"/></g><g id="yh8_17"><circle class="y" cx="693.6" cy="321.4" r="2.9"/></g><g id="yh8_19"><circle class="y" cx="771.3" cy="321.4" r="2.9"/></g><g id="yh8_20"><circle class="y" cx="810.2" cy="321.4" r="2.9"/></g>
<g id="yh9_1"><circle class="y" cx="71.8" cy="360.4" r="2.9"/></g><g id="yh9_2"><circle class="y" cx="110.7" cy="360.4" r="2.9"/></g><g id="yh9_3"><circle class="y" cx="149.5" cy="360.4" r="2.9"/></g><g id="yh9_4"><circle class="y" cx="188.4" cy="360.4" r="2.9"/></g><g id="yh9_5"><circle class="y" cx="227.3" cy="360.4" r="2.9"/></g><g id="yh9_6"><circle class="y" cx="266.1" cy="360.4" r="2.9"/></g><g id="yh9_9"><circle class="y" cx="382.7" cy="360.4" r="2.9"/></g><g id="yh9_10"><circle class="y" cx="421.5" cy="360.4" r="2.9"/></g><g id="yh9_11"><circle class="y" cx="460.4" cy="360.4" r="2.9"/></g><g id="yh9_12"><circle class="y" cx="499.3" cy="360.4" r="2.9"/></g><g id="yh9_13"><circle class="y" cx="538.1" cy="360.4" r="2.9"/></g><g id="yh9_14"><circle class="y" cx="577" cy="360.4" r="2.9"/></g><g id="yh9_19"><circle class="y" cx="771.3" cy="360.4" r="2.9"/></g>
<g id="yh10_1"><circle class="y" cx="71.8" cy="399.3" r="2.9"/></g><g id="yh10_9"><circle class="y" cx="382.7" cy="399.3" r="2.9"/></g><g id="yh10_13"><circle class="y" cx="538.1" cy="399.3" r="2.9"/></g><g id="yh10_14"><circle class="y" cx="577" cy="399.3" r="2.9"/></g><g id="yh10_15"><circle class="y" cx="615.9" cy="399.3" r="2.9"/></g><g id="yh10_17"><circle class="y" cx="693.6" cy="399.3" r="2.9"/></g><g id="yh10_18"><circle class="y" cx="732.4" cy="399.3" r="2.9"/></g><g id="yh10_19"><circle class="y" cx="771.3" cy="399.3" r="2.9"/></g>
<g id="yv0_3"><circle class="y" cx="130.1" cy="29.5" r="2.9"/></g><g id="yv0_5"><circle class="y" cx="207.8" cy="29.5" r="2.9"/></g><g id="yv0_9"><circle class="y" cx="363.2" cy="29.5" r="2.9"/></g><g id="yv0_17"><circle class="y" cx="674.1" cy="29.5" r="2.9"/></g>
<g id="yv1_10"><circle class="y" cx="402.1" cy="68.4" r="2.9"/></g><g id="yv1_12"><circle class="y" cx="479.8" cy="68.4" r="2.9"/></g><g id="yv1_14"><circle class="y" cx="557.5" cy="68.4" r="2.9"/></g><g id="yv1_20"><circle class="y" cx="790.7" cy="68.4" r="2.9"/></g>
<g id="yv2_5"><circle class="y" cx="207.8" cy="107.4" r="2.9"/></g><g id="yv2_9"><circle class="y" cx="363.2" cy="107.4" r="2.9"/></g><g id="yv2_11"><circle class="y" cx="440.9" cy="107.4" r="2.9"/></g><g id="yv2_15"><circle class="y" cx="596.4" cy="107.4" r="2.9"/></g>
<g id="yv3_2"><circle class="y" cx="91.2" cy="146.3" r="2.9"/></g><g id="yv3_4"><circle class="y" cx="168.9" cy="146.3" r="2.9"/></g><g id="yv3_12"><circle class="y" cx="479.8" cy="146.3" r="2.9"/></g><g id="yv3_18"><circle class="y" cx="713" cy="146.3" r="2.9"/></g>
<g id="yv4_11"><circle class="y" cx="440.9" cy="185.2" r="2.9"/></g><g id="yv4_19"><circle class="y" cx="751.8" cy="185.2" r="2.9"/></g><g id="yv4_21"><circle class="y" cx="829.6" cy="185.2" r="2.9"/></g>
<g id="yv5_6"><circle class="y" cx="246.7" cy="224.2" r="2.9"/></g><g id="yv5_12"><circle class="y" cx="479.8" cy="224.2" r="2.9"/></g><g id="yv5_14"><circle class="y" cx="557.5" cy="224.2" r="2.9"/></g><g id="yv5_16"><circle class="y" cx="635.3" cy="224.2" r="2.9"/></g><g id="yv5_18"><circle class="y" cx="713" cy="224.2" r="2.9"/></g>
<g id="yv6_1"><circle class="y" cx="52.4" cy="263.1" r="2.9"/></g><g id="yv6_5"><circle class="y" cx="207.8" cy="263.1" r="2.9"/></g><g id="yv6_7"><circle class="y" cx="285.5" cy="263.1" r="2.9"/></g><g id="yv6_11"><circle class="y" cx="440.9" cy="263.1" r="2.9"/></g><g id="yv6_15"><circle class="y" cx="596.4" cy="263.1" r="2.9"/></g><g id="yv6_19"><circle class="y" cx="751.8" cy="263.1" r="2.9"/></g>
<g id="yv7_0"><circle class="y" cx="13.5" cy="302" r="2.9"/></g><g id="yv7_2"><circle class="y" cx="91.2" cy="302" r="2.9"/></g><g id="yv7_4"><circle class="y" cx="168.9" cy="302" r="2.9"/></g><g id="yv7_6"><circle class="y" cx="246.7" cy="302" r="2.9"/></g><g id="yv7_12"><circle class="y" cx="479.8" cy="302" r="2.9"/></g><g id="yv7_16"><circle class="y" cx="635.3" cy="302" r="2.9"/></g><g id="yv7_20"><circle class="y" cx="790.7" cy="302" r="2.9"/></g>
<g id="yv8_1"><circle class="y" cx="52.4" cy="340.9" r="2.9"/></g><g id="yv8_5"><circle class="y" cx="207.8" cy="340.9" r="2.9"/></g><g id="yv8_9"><circle class="y" cx="363.2" cy="340.9" r="2.9"/></g><g id="yv8_13"><circle class="y" cx="518.7" cy="340.9" r="2.9"/></g><g id="yv8_15"><circle class="y" cx="596.4" cy="340.9" r="2.9"/></g><g id="yv8_17"><circle class="y" cx="674.1" cy="340.9" r="2.9"/></g><g id="yv8_19"><circle class="y" cx="751.8" cy="340.9" r="2.9"/></g><g id="yv8_21"><circle class="y" cx="829.6" cy="340.9" r="2.9"/></g>
<g id="yv9_2"><circle class="y" cx="91.2" cy="379.9" r="2.9"/></g><g id="yv9_4"><circle class="y" cx="168.9" cy="379.9" r="2.9"/></g><g id="yv9_8"><circle class="y" cx="324.4" cy="379.9" r="2.9"/></g><g id="yv9_10"><circle class="y" cx="402.1" cy="379.9" r="2.9"/></g><g id="yv9_14"><circle class="y" cx="557.5" cy="379.9" r="2.9"/></g><g id="yv9_16"><circle class="y" cx="635.3" cy="379.9" r="2.9"/></g><g id="yv9_18"><circle class="y" cx="713" cy="379.9" r="2.9"/></g>
</g>
</svg>
